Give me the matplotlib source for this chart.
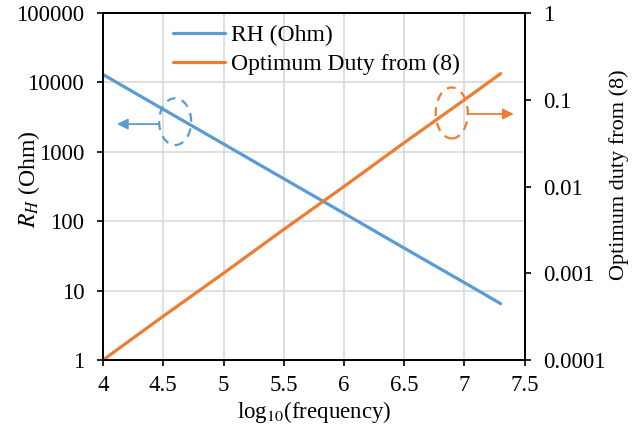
import numpy as np
import matplotlib.pyplot as plt
from matplotlib.patches import Ellipse
from matplotlib.ticker import FixedLocator, FixedFormatter, NullLocator


plt.rcParams['font.family'] = ['Liberation Serif', 'DejaVu Serif']
plt.rcParams['mathtext.fontset'] = 'stix'
plt.rcParams['font.size'] = 16.5

# log10(frequency) points
logf = [4.0, 4.5, 5.0, 5.5, 6.0, 6.5, 7.0, 7.3]
# RH (Ohm), left axis
rh = [13000, 4100, 1300, 410, 130, 41, 13, 6.5]
# Optimum duty from (8), right axis
duty = [0.0001, 0.00032, 0.001, 0.0032, 0.01, 0.032, 0.1, 0.2]

x_ticks = [4, 4.5, 5, 5.5, 6, 6.5, 7, 7.5]
x_labels = ['4', '4.5', '5', '5.5', '6', '6.5', '7', '7.5']
left_ticks = [1, 10, 100, 1000, 10000, 100000]
left_labels = ['1', '10', '100', '1000', '10000', '100000']
right_ticks = [0.0001, 0.001, 0.01, 0.1, 1]
right_labels = ['0.0001', '0.001', '0.01', '0.1', '1']

blue = '#5B9BD5'
orange = '#ED7D31'

fig = plt.figure(figsize=(6.36, 4.42), dpi=100)
ax = fig.add_axes([0.162, 0.1855, 0.663, 0.785])
ax2 = ax.twinx()

l1, = ax.plot(logf, rh, color=blue, lw=2.3, solid_capstyle='round', label='RH (Ohm)')
l2, = ax2.plot(logf, duty, color=orange, lw=2.3, solid_capstyle='round',
               label='Optimum Duty from (8)')

ax.set_xlim(4, 7.5)
ax.set_yscale('log')
ax.set_ylim(1, 100000)
ax2.set_yscale('log')
ax2.set_ylim(0.0001, 1)

ax.xaxis.set_major_locator(FixedLocator(x_ticks))
ax.xaxis.set_major_formatter(FixedFormatter(x_labels))
ax.yaxis.set_major_locator(FixedLocator(left_ticks))
ax.yaxis.set_major_formatter(FixedFormatter(left_labels))
ax.yaxis.set_minor_locator(NullLocator())
ax2.yaxis.set_major_locator(FixedLocator(right_ticks))
ax2.yaxis.set_major_formatter(FixedFormatter(right_labels))
ax2.yaxis.set_minor_locator(NullLocator())

ax.grid(True, color='#D9D9D9', lw=1.2)
ax.set_axisbelow(True)
for a in (ax, ax2):
    for s in a.spines.values():
        s.set_linewidth(1.3)
        s.set_color('black')
    a.tick_params(direction='out', length=4.5, width=1.2, colors='black',
                  labelsize=16.5)
ax.tick_params(axis='x', pad=6)
ax.tick_params(axis='y', pad=9)
ax2.tick_params(axis='y', pad=9)

ax.set_xlabel(r'log$_{10}$(frequency)', fontsize=16.5)
ax.set_ylabel(r'$R_H$ (Ohm)', fontsize=17)
ax2.set_ylabel('Optimum duty from (8)', fontsize=16)
ax.xaxis.set_label_coords(0.5, -0.113)
ax.yaxis.set_label_coords(-0.145, 0.52)
ax2.yaxis.set_label_coords(1.199, 0.533)

ax.legend([l1, l2], ['RH (Ohm)', 'Optimum Duty from (8)'], loc='upper left',
          bbox_to_anchor=(0.166, 0.966), frameon=False, fontsize=17,
          borderpad=0, borderaxespad=0,
          handlelength=2.2, handletextpad=0.25, labelspacing=0.32)

# direction markers
ax.add_patch(Ellipse((0.171, 0.687), 0.076, 0.135, transform=ax.transAxes,
                     fill=False, ec=blue, lw=1.6, ls=(0, (4, 3))))
ax.annotate('', xy=(0.033, 0.680), xytext=(0.133, 0.680),
            xycoords='axes fraction', textcoords='axes fraction',
            arrowprops=dict(arrowstyle='-|>', color=blue, lw=1.3,
                            mutation_scale=16, shrinkA=0, shrinkB=0))
ax.add_patch(Ellipse((0.827, 0.712), 0.076, 0.147, transform=ax.transAxes,
                     fill=False, ec=orange, lw=1.6, ls=(0, (4, 3))))
ax.annotate('', xy=(0.974, 0.709), xytext=(0.865, 0.709),
            xycoords='axes fraction', textcoords='axes fraction',
            arrowprops=dict(arrowstyle='-|>', color=orange, lw=1.3,
                            mutation_scale=16, shrinkA=0, shrinkB=0))

fig.savefig('out.png', dpi=100)
